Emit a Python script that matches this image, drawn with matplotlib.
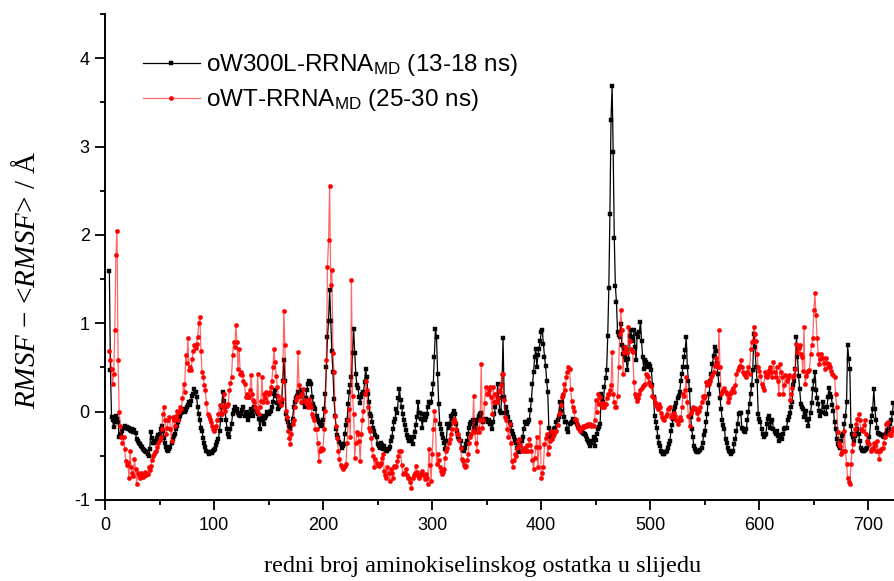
import numpy as np
import matplotlib
matplotlib.use("Agg")
import matplotlib.pyplot as plt
from matplotlib.ticker import MultipleLocator

plt.rcParams['font.family'] = ['Liberation Sans', 'DejaVu Sans']
plt.rcParams['axes.unicode_minus'] = False
plt.rcParams['mathtext.fontset'] = 'custom'
plt.rcParams['mathtext.rm'] = 'Liberation Serif'
plt.rcParams['mathtext.it'] = 'Liberation Serif:italic'

residue_start = 4
residue_end = 723

w300l = [
    1.59, 0.47, -0.06, -0.1, -0.17, -0.12, -0.05, -0.08, -0.12, -0.29,
    -0.27, -0.25, -0.22, -0.18, -0.16, -0.19, -0.17, -0.2, -0.18, -0.21,
    -0.22, -0.2, -0.23, -0.21, -0.24, -0.31, -0.33, -0.35, -0.37, -0.39,
    -0.4, -0.42, -0.43, -0.45, -0.46, -0.48, -0.5, -0.42, -0.23, -0.3,
    -0.35, -0.36, -0.34, -0.33, -0.3, -0.26, -0.25, -0.2, -0.16, -0.22,
    -0.3, -0.35, -0.4, -0.43, -0.44, -0.42, -0.4, -0.36, -0.31, -0.28,
    -0.25, -0.2, -0.16, -0.12, -0.08, -0.05, -0.02, 0.0, 0.03, 0.0,
    0.02, 0.05, 0.08, 0.11, 0.07, 0.12, 0.18, 0.2, 0.26, 0.22,
    0.16, 0.05, -0.03, -0.1, -0.18, -0.22, -0.3, -0.36, -0.4, -0.44,
    -0.46, -0.48, -0.47, -0.46, -0.47, -0.45, -0.43, -0.42, -0.38, -0.34,
    -0.31, -0.22, -0.1, 0.05, 0.22, 0.12, 0.05, -0.1, -0.2, -0.25,
    -0.29, -0.2, -0.14, -0.03, 0.02, 0.05, 0.01, 0.03, -0.01, -0.04,
    -0.05, -0.03, 0.02, 0.05, -0.05, -0.02, 0.0, -0.1, -0.05, -0.03,
    0.03, 0.0, -0.05, 0.05, 0.02, 0.0, -0.03, -0.08, -0.2, -0.1,
    -0.05, -0.08, -0.14, -0.07, -0.05, 0.0, -0.03, 0.0, 0.01, 0.05,
    0.11, 0.2, 0.24, 0.18, 0.1, 0.03, 0.05, 0.08, 0.11, 0.35,
    0.58, 0.35, -0.03, -0.08, -0.12, -0.16, -0.2, -0.15, -0.08, 0.05,
    0.11, 0.15, 0.18, 0.22, 0.16, 0.2, 0.24, 0.2, 0.1, 0.05,
    0.15, 0.24, 0.31, 0.35, 0.33, 0.31, 0.16, 0.09, 0.05, 0.03,
    -0.05, -0.1, -0.12, -0.14, -0.16, -0.15, -0.1, 0.03, 0.2, 0.5,
    0.84, 1.03, 1.38, 1.03, 0.69, 0.45, 0.14, -0.05, -0.2, -0.27,
    -0.3, -0.34, -0.37, -0.41, -0.39, -0.37, -0.25, -0.15, -0.1, 0.09,
    0.22, 0.3, 0.39, 0.66, 0.94, 0.66, 0.43, 0.3, 0.27, 0.16,
    0.1, 0.16, 0.2, 0.22, 0.33, 0.48, 0.39, 0.2, 0.11, -0.03,
    -0.05, -0.12, -0.18, -0.22, -0.26, -0.29, -0.37, -0.39, -0.41, -0.35,
    -0.38, -0.42, -0.39, -0.42, -0.44, -0.44, -0.42, -0.4, -0.33, -0.29,
    -0.2, -0.12, -0.08, 0.03, -0.01, 0.15, 0.26, 0.13, 0.05, -0.03,
    -0.1, -0.15, -0.21, -0.27, -0.3, -0.33, -0.29, -0.33, -0.37, -0.29,
    -0.23, -0.15, -0.06, 0.11, -0.01, -0.01, -0.08, -0.18, -0.03, -0.1,
    -0.06, -0.03, 0.05, 0.11, 0.1, 0.11, 0.2, 0.31, 0.62, 0.94,
    0.84, 0.43, 0.09, -0.14, -0.2, -0.25, -0.3, -0.35, -0.42, -0.33,
    -0.14, -0.18, -0.14, -0.05, -0.08, -0.03, 0.01, -0.03, -0.14, -0.22,
    -0.29, -0.31, -0.33, -0.41, -0.43, -0.44, -0.41, -0.37, -0.33, -0.25,
    -0.18, -0.14, -0.12, -0.1, -0.18, -0.2, -0.14, -0.1, -0.1, -0.05,
    -0.03, -0.01, -0.1, -0.12, -0.1, -0.08, -0.1, -0.12, -0.1, -0.14,
    -0.14, -0.2, -0.12, -0.03, 0.05, 0.11, 0.31, 0.15, 0.01, -0.01,
    0.3, 0.83, 0.16, -0.01, 0.05, 0.0, -0.06, -0.12, -0.15, -0.22,
    -0.25, -0.29, -0.32, -0.35, -0.41, -0.43, -0.46, -0.37, -0.33, -0.29,
    -0.2, -0.12, -0.12, -0.14, -0.12, -0.1, 0.02, 0.13, 0.31, 0.45,
    0.62, 0.71, 0.5, 0.64, 0.71, 0.8, 0.9, 0.92, 0.77, 0.62,
    0.52, 0.35, 0.22, -0.18, -0.29, -0.27, -0.25, -0.23, -0.2, -0.18,
    -0.12, -0.09, -0.06, 0.11, 0.01, 0.1, 0.18, -0.06, -0.12, -0.12,
    -0.2, -0.23, -0.14, -0.13, -0.12, -0.08, -0.1, -0.12, -0.1, -0.14,
    -0.16, -0.18, -0.2, -0.23, -0.24, -0.25, -0.25, -0.28, -0.31, -0.33,
    -0.36, -0.39, -0.35, -0.33, -0.29, -0.39, -0.32, -0.25, -0.2, -0.17,
    -0.14, 0.2, 0.15, 0.11, 0.28, 0.38, 0.47, 0.86, 1.4, 2.24,
    3.3, 3.69, 2.94, 1.97, 1.42, 1.24, 0.9, 0.87, 0.84, 0.99,
    0.75, 0.65, 0.73, 0.62, 0.58, 0.47, 0.6, 0.86, 0.92, 0.85,
    0.8, 0.92, 0.73, 0.58, 0.88, 0.85, 0.9, 1.02, 0.8, 0.62,
    0.48, 0.58, 0.56, 0.52, 0.5, 0.54, 0.52, 0.47, 0.3, 0.16,
    -0.05, -0.12, -0.18, -0.29, -0.35, -0.39, -0.44, -0.46, -0.48, -0.48,
    -0.46, -0.44, -0.41, -0.37, -0.33, -0.22, -0.15, -0.08, 0.01, 0.05,
    0.1, 0.15, 0.18, 0.22, 0.35, 0.43, 0.5, 0.62, 0.7, 0.84,
    0.5, 0.35, 0.24, -0.06, -0.2, -0.29, -0.39, -0.42, -0.44, -0.46,
    -0.46, -0.44, -0.43, -0.41, -0.35, -0.27, -0.22, -0.12, -0.03, 0.1,
    0.2, 0.35, 0.43, 0.54, 0.63, 0.73, 0.69, 0.55, 0.43, 0.3,
    0.15, 0.03, -0.1, -0.15, -0.2, -0.31, -0.36, -0.41, -0.44, -0.46,
    -0.48, -0.46, -0.44, -0.37, -0.31, -0.22, -0.14, -0.03, -0.01, -0.01,
    -0.18, -0.2, -0.22, -0.23, -0.2, -0.1, 0.0, 0.09, 0.2, 0.3,
    0.47, 0.88, 0.73, 0.5, 0.35, -0.03, -0.08, -0.12, -0.2, -0.25,
    -0.29, -0.27, -0.25, -0.14, -0.08, -0.05, -0.18, -0.12, -0.1, -0.2,
    -0.23, -0.25, -0.22, -0.28, -0.33, -0.27, -0.3, -0.31, -0.25, -0.2,
    -0.18, -0.18, -0.1, -0.06, -0.01, 0.05, 0.11, 0.3, 0.35, 0.48,
    0.84, 0.62, 0.4, 0.26, 0.09, 0.05, 0.03, -0.06, -0.03, 0.01,
    -0.1, -0.16, -0.08, -0.01, 0.1, 0.26, 0.35, 0.45, 0.24, 0.15,
    0.09, 0.01, -0.05, 0.0, 0.11, 0.05, -0.01, -0.03, 0.05, 0.16,
    0.27, 0.2, 0.16, 0.08, 0.01, -0.12, -0.2, -0.31, -0.37, -0.39,
    -0.41, -0.33, -0.28, -0.25, -0.14, -0.05, 0.11, 0.75, 0.6, 0.48,
    -0.16, -0.25, -0.29, -0.33, -0.28, -0.25, -0.2, -0.25, -0.33, -0.41,
    -0.43, -0.44, -0.44, -0.43, -0.42, -0.41, -0.35, -0.29, -0.12, -0.05,
    0.03, 0.26, 0.03, -0.1, -0.18, -0.24, -0.25, -0.25, -0.27, -0.28,
    -0.29, -0.27, -0.25, -0.22, -0.21, -0.2, -0.14, -0.1, -0.02, 0.1,
]

wt = [
    0.69, 0.58, 0.48, 0.31, 0.43, 0.92, 1.77, 2.04, 0.58, 0.0,
    -0.16, -0.29, -0.35, -0.29, -0.42, -0.56, -0.6, -0.58, -0.75, -0.44,
    -0.63, -0.7, -0.73, -0.54, -0.65, -0.82, -0.69, -0.72, -0.75, -0.7,
    -0.72, -0.74, -0.73, -0.68, -0.72, -0.71, -0.63, -0.66, -0.61, -0.55,
    -0.5, -0.48, -0.46, -0.44, -0.4, -0.35, -0.32, -0.29, -0.2, -0.03,
    0.05, -0.1, -0.25, -0.18, -0.1, -0.06, -0.2, -0.33, -0.06, -0.1,
    -0.16, -0.05, 0.01, -0.1, 0.0, 0.05, 0.03, 0.15, 0.31, 0.22,
    0.64, 0.55, 0.83, 0.47, 0.5, 0.47, 0.6, 0.69, 0.75, 0.72,
    0.77, 0.85, 1.0, 1.07, 0.69, 0.45, 0.39, 0.3, 0.24, 0.1,
    -0.03, -0.05, -0.08, -0.12, -0.16, -0.2, -0.22, -0.18, -0.16, -0.1,
    -0.03, 0.07, -0.01, -0.03, 0.05, 0.2, 0.01, 0.08, 0.06, 0.09,
    0.24, 0.32, 0.39, 0.64, 0.79, 0.73, 0.98, 0.79, 0.48, 0.71,
    0.43, 0.45, 0.41, 0.35, 0.31, 0.16, 0.2, 0.16, 0.16, 0.25,
    0.41, 0.2, 0.13, 0.11, 0.05, 0.01, 0.43, -0.03, 0.05, 0.12,
    0.39, 0.11, 0.2, 0.15, 0.22, 0.11, 0.2, 0.22, 0.28, 0.35,
    0.5, 0.71, 0.56, 0.4, 0.28, 0.18, 0.12, 0.07, 0.14, 0.35,
    1.14, 0.75, 0.01, -0.06, -0.22, -0.3, -0.37, -0.25, -0.14, -0.1,
    0.05, 0.13, 0.16, 0.67, 0.3, 0.18, 0.11, 0.2, 0.26, 0.13,
    0.1, 0.09, 0.05, 0.14, 0.1, 0.05, -0.03, -0.06, -0.1, -0.2,
    -0.2, -0.35, -0.56, -0.44, -0.41, -0.43, -0.42, -0.2, 0.01, 0.58,
    1.64, 1.94, 2.55, 1.43, 1.6, 0.66, 0.45, -0.05, -0.16, -0.3,
    -0.44, -0.54, -0.6, -0.63, -0.65, -0.63, -0.61, -0.59, -0.35, -0.1,
    0.03, -0.29, 1.49, 0.18, -0.03, -0.52, -0.35, -0.23, -0.25, -0.33,
    -0.56, -0.25, -0.1, 0.01, 0.2, 0.35, 0.24, 0.05, -0.18, -0.22,
    -0.3, -0.42, -0.5, -0.63, -0.54, -0.58, -0.6, -0.61, -0.6, -0.58,
    -0.52, -0.48, -0.67, -0.72, -0.75, -0.63, -0.7, -0.78, -0.65, -0.7,
    -0.75, -0.61, -0.63, -0.61, -0.56, -0.5, -0.44, -0.44, -0.6, -0.71,
    -0.7, -0.69, -0.65, -0.72, -0.75, -0.75, -0.8, -0.86, -0.75, -0.72,
    -0.69, -0.61, -0.68, -0.73, -0.75, -0.72, -0.71, -0.67, -0.72, -0.76,
    -0.71, -0.75, -0.82, -0.42, -0.6, -0.78, -0.48, -0.2, 0.01, -0.1,
    -0.59, -0.48, -0.55, -0.63, -0.67, -0.71, -0.68, -0.65, -0.52, -0.45,
    -0.41, -0.35, -0.31, -0.25, -0.2, -0.12, -0.08, -0.12, -0.2, -0.25,
    -0.25, -0.32, -0.41, -0.54, -0.56, -0.6, -0.63, -0.61, -0.55, -0.48,
    -0.35, -0.29, -0.25, -0.22, 0.18, -0.23, -0.35, -0.44, -0.18, -0.23,
    -0.1, 0.54, -0.18, -0.1, 0.1, 0.28, 0.2, 0.2, 0.24, 0.28,
    0.16, -0.03, 0.28, 0.11, 0.2, 0.11, 0.15, 0.24, 0.22, 0.3,
    0.43, 0.43, 0.13, -0.06, -0.1, -0.2, -0.29, -0.14, -0.35, -0.56,
    -0.63, -0.55, -0.48, -0.5, -0.41, -0.33, -0.31, -0.38, -0.44, -0.41,
    -0.44, -0.41, -0.44, -0.38, -0.44, -0.31, -0.38, -0.44, -0.55, -0.65,
    -0.52, -0.4, -0.29, -0.63, -0.4, -0.12, -0.75, -0.7, -0.63, -0.37,
    -0.3, -0.25, -0.48, -0.4, -0.33, -0.22, -0.31, -0.28, -0.25, -0.22,
    -0.22, -0.15, -0.03, -0.01, 0.08, 0.16, 0.2, 0.31, 0.24, 0.39,
    0.45, 0.5, 0.48, 0.26, 0.12, 0.05, 0.01, -0.08, -0.1, -0.14,
    -0.18, -0.2, -0.22, -0.19, -0.16, -0.17, -0.16, -0.15, -0.16, -0.14,
    -0.15, -0.14, -0.16, -0.15, -0.16, -0.1, 0.13, 0.0, 0.2, 0.09,
    0.16, 0.1, 0.05, 0.1, 0.05, 0.09, 0.15, 0.2, 0.2, 0.25,
    0.3, 0.67, 0.2, 0.11, 0.05, 0.05, 0.18, 0.5, 0.88, 1.15,
    0.92, 0.43, 0.67, 0.73, 0.7, 0.66, 0.96, 0.8, 0.71, 0.69,
    0.67, 0.33, 0.2, 0.16, 0.12, 0.15, 0.2, 0.25, 0.27, 0.29,
    0.3, 0.31, 0.43, 0.41, 0.39, 0.33, 0.3, 0.29, 0.18, 0.15,
    0.11, 0.07, 0.05, 0.03, 0.09, 0.05, -0.01, -0.06, -0.08, -0.1,
    -0.05, -0.03, 0.03, 0.04, 0.05, -0.06, -0.04, -0.06, -0.01, -0.05,
    -0.1, -0.14, -0.1, -0.06, -0.1, 0.05, 0.2, 0.18, 0.25, 0.39,
    0.11, -0.05, -0.16, -0.01, 0.02, 0.05, 0.03, 0.04, 0.03, -0.02,
    -0.08, 0.01, 0.05, 0.11, 0.18, 0.15, 0.18, 0.33, 0.3, 0.33,
    0.31, 0.35, 0.39, 0.41, 0.45, 0.52, 0.61, 0.55, 0.5, 0.92,
    0.5, 0.2, 0.22, 0.24, 0.27, 0.22, 0.2, 0.11, 0.15, 0.2,
    0.22, 0.25, 0.27, 0.22, 0.3, 0.43, 0.47, 0.5, 0.52, 0.59,
    0.5, 0.45, 0.43, 0.41, 0.39, 0.45, 0.5, 0.43, 0.71, 0.79,
    0.8, 0.96, 0.88, 0.8, 0.65, 0.5, 0.46, 0.4, 0.31, 0.28,
    0.24, 0.45, 0.4, 0.39, 0.43, 0.47, 0.5, 0.45, 0.39, 0.56,
    0.45, 0.39, 0.5, 0.35, 0.2, 0.54, 0.45, 0.39, 0.2, 0.3,
    0.41, 0.35, 0.38, 0.41, 0.13, 0.2, 0.27, 0.39, 0.42, 0.48,
    0.77, 0.67, 0.72, 0.75, 0.65, 0.62, 0.46, 0.96, 0.31, 0.4,
    0.45, 0.46, 0.47, 0.65, 0.75, 0.83, 1.15, 1.34, 1.09, 0.83,
    0.65, 0.54, 0.6, 0.65, 0.61, 0.55, 0.48, 0.61, 0.55, 0.5,
    0.54, 0.5, 0.46, 0.43, 0.41, 0.39, 0.2, 0.05, -0.23, -0.35,
    -0.39, -0.48, -0.46, -0.44, -0.22, -0.45, -0.59, -0.75, -0.8, -0.82,
    -0.59, -0.45, -0.37, -0.25, -0.2, -0.14, -0.08, -0.03, -0.1, -0.2,
    -0.21, -0.22, -0.15, -0.1, -0.25, -0.33, -0.35, -0.37, -0.44, -0.42,
    -0.41, -0.35, -0.38, -0.44, -0.33, -0.45, -0.54, -0.44, -0.42, -0.41,
    -0.35, -0.29, -0.14, -0.13, -0.12, -0.25, -0.26, -0.27, -0.22, -0.18,
]

labels = ['oW300L-RRNA$_{\\mathregular{MD}}$ (13-18 ns)',
          'oWT-RRNA$_{\\mathregular{MD}}$ (25-30 ns)']
xticks = [0, 100, 200, 300, 400, 500, 600, 700]
yticks = [-1, 0, 1, 2, 3, 4]

residues = np.arange(residue_start, residue_end + 1)

W, H = 894, 581
fig = plt.figure(figsize=(W / 100, H / 100), dpi=100)
ax = fig.add_axes([105 / W, 1 - 500 / H, 1 - 105 / W, (500 - 14) / H])

ax.plot(residues, w300l, color='black', linewidth=0.9, marker='s',
        markersize=2.8, markerfacecolor='black', markeredgecolor='black',
        markeredgewidth=0.3, label=labels[0], zorder=2)
ax.plot(residues, wt, color=(1, 0, 0, 0.6), linewidth=0.9, marker='o',
        markersize=3.1, markerfacecolor='red', markeredgecolor='red',
        markeredgewidth=0.3, label=labels[1], zorder=3)

ax.set_xlim(0, 723.5)
ax.set_ylim(-1, 4.5)
ax.set_xticks(xticks)
ax.set_yticks(yticks)
ax.xaxis.set_minor_locator(MultipleLocator(50))
ax.yaxis.set_minor_locator(MultipleLocator(0.5))
for s in ['top', 'right']:
    ax.spines[s].set_visible(False)
for s in ['left', 'bottom']:
    ax.spines[s].set_linewidth(1.4)
ax.tick_params(which='major', direction='out', length=7, width=1.3,
               labelsize=13, pad=4)
ax.tick_params(which='minor', direction='out', length=3.5, width=1.3)
ax.tick_params(axis='x', which='major', pad=5)

leg = ax.legend(loc='upper left', bbox_to_anchor=(0.048, 0.921), frameon=False,
                fontsize=17.5, handlelength=2.35, handletextpad=0.25,
                borderpad=0, borderaxespad=0, labelspacing=0.37, numpoints=1)

fig.text(0.540, 1 - 572 / H, 'redni broj aminokiselinskog ostatka u slijedu',
         ha='center', va='baseline', fontsize=17.5, family='Liberation Serif')
fig.text(27 / W, 1 - 280 / H,
         r'$\mathit{RMSF}$ $-$ <$\mathit{RMSF}$> / Å',
         rotation=90, ha='center', va='center', fontsize=21,
         family='Liberation Serif')

fig.savefig('out.png', dpi=100)
